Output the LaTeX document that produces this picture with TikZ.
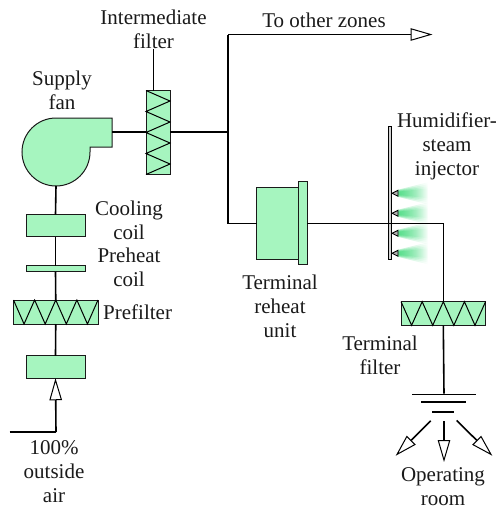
\documentclass[tikz,border=0pt]{standalone}
\usepackage{fontspec}
\setmainfont{Liberation Serif}
\usetikzlibrary{arrows.meta, positioning, calc, fadings}

\definecolor{coilgreen}{HTML}{A6F5BF}
\definecolor{steamgreen}{HTML}{2FD66F}
\definecolor{linedark}{HTML}{1A1A1A}

\begin{document}
\begin{tikzpicture}[
    x=1pt, y=-1pt,
    unit/.style={rectangle, draw=linedark, line width=1pt, fill=coilgreen, inner sep=0pt, outer sep=0pt},
    label/.style={font=\fontsize{21}{24}\selectfont, align=center, inner sep=0pt, text=linedark},
    duct/.style={draw=black, line width=1.6pt},
    arrow/.style={duct, -{Triangle[open, fill=white, length=22pt, width=12.5pt, line width=1pt]}},
    zigzag/.style={draw=black, line width=1pt, line join=miter},
    bar/.style={rectangle, fill=black, minimum height=1.8pt, inner sep=0pt, outer sep=0pt},
]
    \useasboundingbox (0,0) rectangle (500,509);

    % supply side
    \node (fan) [circle, minimum size=68pt, inner sep=0pt, outer sep=0pt] at (56,152) {};
    \coordinate (fan_out) at (112,132);
    \draw [unit] (112,118) -- (56,118) arc[start angle=90, end angle=360, radius=34pt] -- (90,147) -- (112,147) -- cycle;

    \node (cooling) [unit, minimum width=59pt, minimum height=22pt] at (55.5,225.5) {};
    \node (preheat) [unit, minimum width=59pt, minimum height=6pt] at (55.5,268.5) {};
    \node (prefilter) [unit, minimum width=84.5pt, minimum height=24pt] at (55.75,312) {};
    \node (intake) [unit, minimum width=59pt, minimum height=22.5pt] at (55.5,367) {};
    \coordinate (air_bend) at (56,432);
    \coordinate (air_in) at (9.5,432);

    \node (midfilter) [unit, minimum width=24pt, minimum height=84pt] at (158,132.5) {};

    % branch
    \coordinate (tee) at (228,132);
    \coordinate (zone_bend) at (228,34.5);
    \coordinate (zone_out) at (432.5,34.5);
    \coordinate (reheat_bend) at (228,223.3);

    \node (reheat) [unit, minimum width=42pt, minimum height=72pt] at (277.7,223.3) {};
    \node (flange) [unit, minimum width=8.6pt, minimum height=82.7pt, right=0pt of reheat] {};

    % humidifier
    \foreach \y in {193.3,213.3,233.3,253.3} {
        \foreach \h in {11,9,7,5}
            \fill [steamgreen, opacity=.34, path fading=east] (397,\y-\h*.3) -- (428,\y-\h) -- (428,\y+\h) -- (397,\y+\h*.3) -- cycle;
        \draw [fill=gray!60, draw=black, line width=.8pt] (392,\y) -- (398,\y-3) -- (398,\y+3) -- cycle;
    }
    \node (injector) [rectangle, draw=black, line width=.8pt, fill=gray!35, minimum width=3.6pt, minimum height=132.5pt, inner sep=0pt] at (390,193) {};

    \node (termfilter) [unit, minimum width=84.5pt, minimum height=23.6pt] at (443.3,313.5) {};
    \coordinate (term_bend) at (443.3,223.3);

    % diffuser
    \node (diff_a) [bar, minimum width=64pt] at (444,394.5) {};
    \node (diff_b) [bar, minimum width=45pt] at (443.5,402) {};
    \node (diff_c) [bar, minimum width=22pt] at (443.3,411.7) {};
    \coordinate (out_l) at (430.7,420.7);
    \coordinate (out_m) at (444,421);
    \coordinate (out_r) at (456.7,420.5);
    \coordinate (tip_l) at (395.7,455.7);
    \coordinate (tip_m) at (444,462);
    \coordinate (tip_r) at (492.3,455.7);

    % filter media
    \draw [zigzag] (midfilter.north west) foreach \k in {1,3,5,7} {
        -- ($(midfilter.north east)!\k/8!(midfilter.south east)$)
        -- ($(midfilter.north west)!\k/8+1/8!(midfilter.south west)$) };
    \foreach \f in {prefilter,termfilter}
        \draw [zigzag] (\f.north west) foreach \k in {1,3,5,7} {
            -- ($(\f.south west)!\k/8!(\f.south east)$)
            -- ($(\f.north west)!\k/8+1/8!(\f.north east)$) };

    % ducts
    \draw [duct] (air_in) -- (air_bend);
    \draw [arrow] (air_bend) -- (intake.south);
    \draw [duct] (intake.north) -- (prefilter.south);
    \draw [duct] (prefilter.north) -- (preheat.south);
    \draw [duct] (preheat.north) -- (cooling.south);
    \draw [duct] (cooling.north) -- (fan.south);
    \draw [duct] (fan_out) -- (midfilter.west |- fan_out);
    \draw [duct] (midfilter.east |- tee) -- (tee);
    \draw [duct, line join=miter] (reheat.west) -- (reheat_bend) -- (zone_bend);
    \draw [arrow] (zone_bend) -- (zone_out);
    \draw [duct, line join=miter] (flange.east) -- (term_bend) -- (termfilter.north);
    \draw [duct] (termfilter.south) -- (diff_a.north);
    \draw [arrow] (out_l) -- (tip_l);
    \draw [arrow] (out_m) -- (tip_m);
    \draw [arrow] (out_r) -- (tip_r);

    % labels
    \node (midfilter_text) [label] at (153.5,29) {Intermediate\\filter};
    \draw [line width=.7pt] (midfilter_text.south -| midfilter.north) ++(-4.5,0) -- ($(midfilter.north)+(-4.5,0)$);
    \node (fan_text) [label] at (62,90) {Supply\\fan};
    \node (cooling_text) [label] at (129,220) {Cooling\\coil};
    \node (preheat_text) [label] at (129,267) {Preheat\\coil};
    \node (prefilter_text) [label, right=5pt of prefilter] {Prefilter};
    \node (air_text) [label] at (54,472) {100\%\\outside\\air};
    \node (zone_text) [label] at (324,20) {To other zones};
    \node (injector_text) [label] at (447,146) {Humidifier-\\steam\\injector};
    \node (reheat_text) [label] at (280,306) {Terminal\\reheat\\unit};
    \node (termfilter_text) [label] at (380,355) {Terminal\\filter};
    \node (room_text) [label] at (443,486.5) {Operating\\room};
\end{tikzpicture}
\end{document}
